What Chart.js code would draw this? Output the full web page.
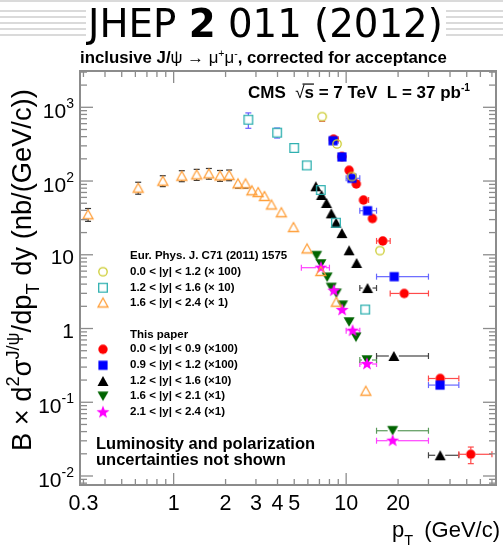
<!DOCTYPE html>
<html><head><meta charset="utf-8">
<script src="https://cdn.jsdelivr.net/npm/chart.js@4.4.0/dist/chart.umd.min.js"></script>
<style>html,body{margin:0;padding:0;background:#fff;}canvas{display:block}</style>
</head><body>
<canvas id="c" width="503" height="546"></canvas>
<script>
// ---------------- data ----------------
const xTickVals = [0.3, 1, 2, 3, 4, 5, 10, 20];
const xTickLabels = ['0.3', '1', '2', '3', '4', '5', '10', '20'];
const yTickVals = [0.01, 0.1, 1, 10, 100, 1000];
const yTickBase = ['10', '10', '1', '10', '10', '10'];
const yTickExp = ['-2', '-1', '', '', '2', '3'];
const minorMult = [2, 3, 4, 5, 6, 7, 8, 9];
const xRange = [0.2865, 73.9];
const yRange = [0.00755, 3106];

// Eur. Phys. J. C71 (2011) 1575
const old0012_pt = [7.26, 8.85, 10.8, 15.7];                 // 0.0<|y|<1.2 (x100)
const old0012_val = [746, 318, 115, 11.4];
const old0012_err = [100, 30, 10, 1.0];

const old1216_pt = [2.71, 3.98, 5.0, 5.91, 7.13, 8.73, 12.9]; // 1.2<|y|<1.6 (x10)
const old1216_val = [679, 453, 281, 163, 75.5, 27.2, 1.81];
const old1216_err = [160, 70, 35, 12, 4, 1.5, 0.15];

const old1624_pt = [0.319, 0.623, 0.865, 1.115, 1.36, 1.60, 1.857, 2.097, 2.36, 2.61,
                    2.84, 3.09, 3.36, 3.69, 4.21, 4.95, 5.93, 7.13, 8.77, 13.0]; // 1.6<|y|<2.4 (x1)
const old1624_val = [35.4, 81.3, 101, 118, 123, 127, 119, 121, 93, 93,
                     74.9, 71, 62.7, 48.1, 37.8, 23.8, 12.2, 6.03, 2.31, 0.1435];
const old1624_err = [7, 15, 17, 20, 21, 21, 20, 20, 13, 13,
                     9, 9, 8, 5, 3.5, 2.2, 1.1, 0.5, 0.2, 0.012];

// This paper
const new0009_pt = [8.45, 9.45, 10.4, 11.45, 12.6, 14.2, 16.3, 21.7, 35.1, 52.8]; // 0.0<|y|<0.9 (x100)
const new0009_lo = [8, 9, 10, 11, 12, 13.5, 15, 18, 30, 45];
const new0009_hi = [9, 10, 11, 12, 13.5, 15, 18, 30, 45, 70];
const new0009_val = [370, 215, 140, 91.2, 55.3, 31.0, 15.4, 2.99, 0.210, 0.0197];
const new0009_err = [15, 9, 6, 4, 2.5, 1.5, 0.8, 0.2, 0.02, 0.005];

const new0912_pt = [8.4, 9.45, 10.8, 13.3, 19.0, 35.0];      // 0.9<|y|<1.2 (x100)
const new0912_lo = [8, 9, 10, 12, 15, 30];
const new0912_hi = [9, 10, 12, 15, 30, 45];
const new0912_val = [352, 212, 109, 39.6, 5.05, 0.171];
const new0912_err = [15, 9, 5, 2, 0.3, 0.015];

const new1216_pt = [6.67, 7.2, 7.69, 8.2, 8.74, 9.45, 10.4, 11.5, 13.3, 18.9, 35.1]; // 1.2<|y|<1.6 (x10)
const new1216_lo = [6.5, 7, 7.5, 8, 8.5, 9, 10, 11, 12, 15, 30];
const new1216_hi = [7, 7.5, 8, 8.5, 9, 10, 11, 12, 15, 30, 45];
const new1216_val = [84.9, 64.7, 50.4, 36.5, 27.2, 19.7, 11.5, 7.74, 3.54, 0.424, 0.0191];
const new1216_err = [4, 3, 2.2, 1.6, 1.2, 0.9, 0.5, 0.35, 0.17, 0.025, 0.002];

const new1621_pt = [6.74, 7.14, 7.76, 8.2, 8.77, 9.53, 10.4, 11.4, 13.2, 18.6]; // 1.6<|y|<2.1 (x1)
const new1621_lo = [6.5, 7, 7.5, 8, 8.5, 9, 10, 11, 12, 15];
const new1621_hi = [7, 7.5, 8, 8.5, 9, 10, 11, 12, 15, 30];
const new1621_val = [9.72, 7.50, 4.95, 3.60, 3.00, 2.07, 1.225, 0.76, 0.374, 0.0411];
const new1621_err = [0.5, 0.35, 0.25, 0.18, 0.15, 0.1, 0.06, 0.04, 0.02, 0.003];

const new2124_pt = [7.14, 8.48, 9.48, 10.9, 13.2, 18.6];     // 2.1<|y|<2.4 (x1)
const new2124_lo = [5.5, 8, 9, 10, 12, 15];
const new2124_hi = [8, 9, 10, 12, 15, 30];
const new2124_val = [6.68, 3.26, 1.78, 0.934, 0.330, 0.0301];
const new2124_err = [0.35, 0.17, 0.1, 0.05, 0.02, 0.003];

// ---------------- markers ----------------
const FAM = '"Liberation Sans", Arial, Helvetica, sans-serif';
const DJ = '"DejaVu Sans", Verdana, sans-serif';
function markerImg(kind, color, open) {
  const S = 18, m = S / 2;
  const c = document.createElement('canvas'); c.width = c.height = S;
  const g = c.getContext('2d');
  g.beginPath();
  if (kind === 'circle') { g.arc(m, m, open ? 4.2 : 4.7, 0, Math.PI * 2); }
  else if (kind === 'square') { const h = open ? 4.3 : 4.6; g.rect(m - h, m - h, 2 * h, 2 * h); }
  else if (kind === 'tri') { const w = open ? 10 : 11, h = open ? 9 : 10;
    g.moveTo(m - w / 2, m + h / 2); g.lineTo(m + w / 2, m + h / 2); g.lineTo(m, m - h / 2); g.closePath(); }
  else if (kind === 'triDown') { const w = 11, h = 9.5;
    g.moveTo(m - w / 2, m - h / 2); g.lineTo(m + w / 2, m - h / 2); g.lineTo(m, m + h / 2); g.closePath(); }
  else if (kind === 'star') { const R = 6.8;
    for (let i = 0; i < 10; i++) { const r = i % 2 ? R * 0.42 : R; const a = -Math.PI / 2 + i * Math.PI / 5;
      g.lineTo(m + r * Math.cos(a), m + r * Math.sin(a)); } g.closePath(); }
  if (open) { g.strokeStyle = color; g.lineWidth = 1.3; g.stroke(); }
  else { g.fillStyle = color; g.fill(); }
  return c;
}
const M = {
  yel: markerImg('circle', '#cccc30', true),
  cya: markerImg('square', '#2fb0b0', true),
  ora: markerImg('tri', '#ff9f3a', true),
  red: markerImg('circle', '#ff0000', false),
  blu: markerImg('square', '#0000ff', false),
  blk: markerImg('tri', '#000000', false),
  grn: markerImg('triDown', '#006400', false),
  mag: markerImg('star', '#ff00ff', false)
};

function pts(xs, ys) { return xs.map((x, i) => ({ x: x, y: ys[i] })); }
function ds(label, xs, ys, err, lo, hi, img, barColor, gap, order, barW) {
  return { label, data: pts(xs, ys), errY: err, xLo: lo, xHi: hi, pointStyle: img,
    pointRadius: 6, pointHoverRadius: 6, showLine: false, barColor, gap, order, barW: barW || 1.2 };
}

const datasets = [
  ds('0.0<|y|<1.2 (x100)', old0012_pt, old0012_val, old0012_err, null, null, M.yel, '#e05050', 4.2, 0),
  ds('1.2<|y|<1.6 (x10)', old1216_pt, old1216_val, old1216_err, null, null, M.cya, '#6a5cff', 4.3, 1),
  ds('1.6<|y|<2.4 (x1)', old1624_pt, old1624_val, old1624_err, null, null, M.ora, '#333333', 4.5, 2),
  ds('2.1<|y|<2.4 (x1)', new2124_pt, new2124_val, new2124_err, new2124_lo, new2124_hi, M.mag, '#ff40ff', 5, 3),
  ds('1.6<|y|<2.1 (x1)', new1621_pt, new1621_val, new1621_err, new1621_lo, new1621_hi, M.grn, '#5a9a5a', 5, 4),
  ds('1.2<|y|<1.6 (x10)', new1216_pt, new1216_val, new1216_err, new1216_lo, new1216_hi, M.blk, '#444444', 5, 5),
  ds('0.9<|y|<1.2 (x100)', new0912_pt, new0912_val, new0912_err, new0912_lo, new0912_hi, M.blu, '#6666ff', 4.6, 6),
  ds('0.0<|y|<0.9 (x100)', new0009_pt, new0009_val, new0009_err, new0009_lo, new0009_hi, M.red, '#ff4a4a', 4.7, 7)
];

// ---------------- text helpers ----------------
function fnt(p, s) { return (p.b ? 'bold ' : '') + (p.size * s).toFixed(2) + 'px ' + (p.fam || FAM); }
function richWidth(ctx, parts) { let w = 0; for (const p of parts) { ctx.font = fnt(p, 1); w += ctx.measureText(p.t).width; } return w; }
function drawRich(ctx, x, y, parts, targetW) {
  const s = targetW ? targetW / richWidth(ctx, parts) : 1;
  let cx = x;
  for (const p of parts) {
    ctx.font = fnt(p, s);
    ctx.fillText(p.t, cx, y + (p.dy || 0) * s);
    const w = ctx.measureText(p.t).width;
    if (p.over) { ctx.save(); ctx.lineWidth = 1.2; ctx.strokeStyle = ctx.fillStyle; ctx.beginPath();
      ctx.moveTo(cx - 2, y - p.size * s * 0.82); ctx.lineTo(cx + w, y - p.size * s * 0.82); ctx.stroke(); ctx.restore(); }
    cx += w;
  }
  return cx;
}
function line(ctx, x1, y1, x2, y2) { ctx.beginPath(); ctx.moveTo(x1, y1); ctx.lineTo(x2, y2); ctx.stroke(); }

// ---------------- plugin ----------------
const overlay = {
  id: 'overlay',
  beforeDraw(chart) {
    const ctx = chart.ctx;
    ctx.save();
    ctx.fillStyle = '#fff'; ctx.fillRect(0, 0, chart.width, chart.height);
    ctx.strokeStyle = '#dadada'; ctx.lineWidth = 2;
    line(ctx, 0, 1, chart.width, 1);
    [11, 17, 23, 29, 35].forEach(yy => { line(ctx, 0, yy, 86, yy); line(ctx, 446, yy, chart.width, yy); });
    ctx.restore();
  },
  beforeDatasetsDraw(chart) {
    const { ctx, chartArea: a, scales: { x, y } } = chart;
    ctx.save();
    ctx.beginPath(); ctx.rect(a.left, a.top, a.right - a.left, a.bottom - a.top); ctx.clip();
    chart.data.datasets.forEach(d => {
      ctx.strokeStyle = d.barColor; ctx.lineWidth = d.barW;
      const cap = 3, g = d.gap;
      d.data.forEach((p, i) => {
        const px = x.getPixelForValue(p.x), py = y.getPixelForValue(p.y);
        if (d.errY) {
          const e = d.errY[i];
          const t = y.getPixelForValue(p.y + e), b = y.getPixelForValue(Math.max(p.y - e, 1e-6));
          if (t < py - g) { line(ctx, px, t, px, py - g); line(ctx, px - cap, t, px + cap, t); }
          if (b > py + g) { line(ctx, px, py + g, px, b); line(ctx, px - cap, b, px + cap, b); }
        }
        if (d.xLo) {
          const l = x.getPixelForValue(d.xLo[i]), r = x.getPixelForValue(d.xHi[i]);
          if (l < px - g) { line(ctx, l, py, px - g, py); line(ctx, l, py - cap, l, py + cap); }
          if (r > px + g) { line(ctx, px + g, py, r, py); line(ctx, r, py - cap, r, py + cap); }
        }
      });
    });
    ctx.restore();
  },
  afterDatasetsDraw(chart) {
    const { ctx, chartArea: a, scales: { x, y } } = chart;
    ctx.save();
    // frame
    ctx.strokeStyle = '#8c8c8c'; ctx.lineWidth = 2;
    ctx.strokeRect(a.left, a.top, a.right - a.left, a.bottom - a.top);
    ctx.lineWidth = 1.3;
    // x ticks
    for (let e = -1; e <= 1; e++) {
      [1].concat(minorMult).forEach(k => {
        const v = k * Math.pow(10, e);
        if (v < x.min || v > x.max) return;
        const px = x.getPixelForValue(v), L = k === 1 ? 12 : 6;
        line(ctx, px, a.bottom, px, a.bottom - L);
        line(ctx, px, a.top, px, a.top + L);
      });
    }
    // y ticks
    for (let e = -3; e <= 3; e++) {
      [1].concat(minorMult).forEach(k => {
        const v = k * Math.pow(10, e);
        if (v < y.min || v > y.max) return;
        const py = y.getPixelForValue(v), L = k === 1 ? 13 : 7;
        line(ctx, a.left, py, a.left + L, py);
        line(ctx, a.right, py, a.right - L, py);
      });
    }
    // tick labels
    ctx.fillStyle = '#000';
    ctx.textAlign = 'center'; ctx.textBaseline = 'alphabetic';
    ctx.font = '21.5px ' + FAM;
    xTickVals.forEach((v, i) => ctx.fillText(xTickLabels[i], x.getPixelForValue(v), a.bottom + 24.5));
    ctx.textAlign = 'left';
    yTickVals.forEach((v, i) => {
      const py = y.getPixelForValue(v);
      const parts = [{ t: yTickBase[i], size: 21 }];
      if (yTickExp[i]) parts.push({ t: yTickExp[i], size: 14, dy: -10 });
      const w = richWidth(ctx, parts);
      drawRich(ctx, a.left - 6 - w, py + (yTickExp[i] ? 11 : 9.5), parts);
    });
    // axis titles
    drawRich(ctx, 392, 537, [{ t: 'p', size: 22 }, { t: 'T', size: 14.5, dy: 7.5 }]);
    ctx.textAlign = 'right'; ctx.font = '22px ' + FAM; ctx.fillText('(GeV/c)', 500, 537);
    ctx.textAlign = 'left';
    ctx.save(); ctx.translate(31, 451); ctx.rotate(-Math.PI / 2);
    drawRich(ctx, 0, 0, [
      { t: 'B \u00d7 d', size: 21 }, { t: '2', size: 14, dy: -9 }, { t: '\u03c3', size: 21 },
      { t: 'J/\u03c8', size: 14, dy: -9 }, { t: '/dp', size: 21 }, { t: 'T', size: 14, dy: 6 },
      { t: ' dy (nb/(GeV/c))', size: 21 }], 362);
    ctx.restore();
    // header texts
    drawRich(ctx, 88, 36.5, [{ t: 'JHEP ', size: 39, fam: DJ }, { t: '2', size: 39, b: true, fam: DJ }, { t: ' 011 (2012)', size: 39, fam: DJ }], 355);
    drawRich(ctx, 80, 63, [{ t: 'inclusive J/', size: 16, b: true }, { t: '\u03c8', size: 16 }, { t: ' \u2192 ', size: 16 },
      { t: '\u03bc', size: 16 }, { t: '+', size: 10, dy: -6 }, { t: '\u03bc', size: 16 }, { t: '-', size: 10, dy: -6 },
      { t: ', corrected for acceptance', size: 16, b: true }], 367);
    drawRich(ctx, 248, 98, [{ t: 'CMS  ', size: 15, b: true }, { t: '\u221a', size: 15 }, { t: 's', size: 15, b: true, over: true },
      { t: ' = 7 TeV  L = 37 pb', size: 15, b: true }, { t: '-1', size: 9, b: true, dy: -6 }], 222);
    // legend
    ctx.textBaseline = 'middle';
    ctx.font = 'bold 11.5px ' + FAM;
    const legX = 103, txtX = 130;
    ctx.fillText('Eur. Phys. J. C71 (2011) 1575', txtX, 255.5);
    const leg1 = [[M.yel, '0.0 < |y| < 1.2 (\u00d7 100)', 271.7], [M.cya, '1.2 < |y| < 1.6 (\u00d7 10)', 287.7], [M.ora, '1.6 < |y| < 2.4 (\u00d7 1)', 302.5]];
    const leg2 = [[M.red, '0.0 < |y| < 0.9 (\u00d7100)', 349.3], [M.blu, '0.9 < |y| < 1.2 (\u00d7100)', 365.3], [M.blk, '1.2 < |y| < 1.6 (\u00d710)', 381],
      [M.grn, '1.6 < |y| < 2.1 (\u00d71)', 396.3], [M.mag, '2.1 < |y| < 2.4 (\u00d71)', 412.3]];
    ctx.fillText('This paper', txtX, 334.5);
    leg1.concat(leg2).forEach(([img, t, yy]) => {
      ctx.drawImage(img, legX - img.width / 2, yy - img.height / 2);
      ctx.fillText(t, txtX, yy);
    });
    ctx.font = 'bold 16.5px ' + FAM;
    ctx.fillText('Luminosity and polarization', 96, 444);
    ctx.fillText('uncertainties not shown', 96, 460);
    ctx.restore();
  }
};

new Chart(document.getElementById('c'), {
  type: 'scatter',
  data: { datasets },
  options: {
    responsive: false, animation: false, events: [],
    layout: { padding: { left: 80, top: 71, right: 1, bottom: 61 } },
    plugins: { legend: { display: false }, tooltip: { enabled: false }, title: { display: false } },
    scales: {
      x: { type: 'logarithmic', min: xRange[0], max: xRange[1], display: false },
      y: { type: 'logarithmic', min: yRange[0], max: yRange[1], display: false }
    }
  },
  plugins: [overlay]
});
</script>
</body></html>
